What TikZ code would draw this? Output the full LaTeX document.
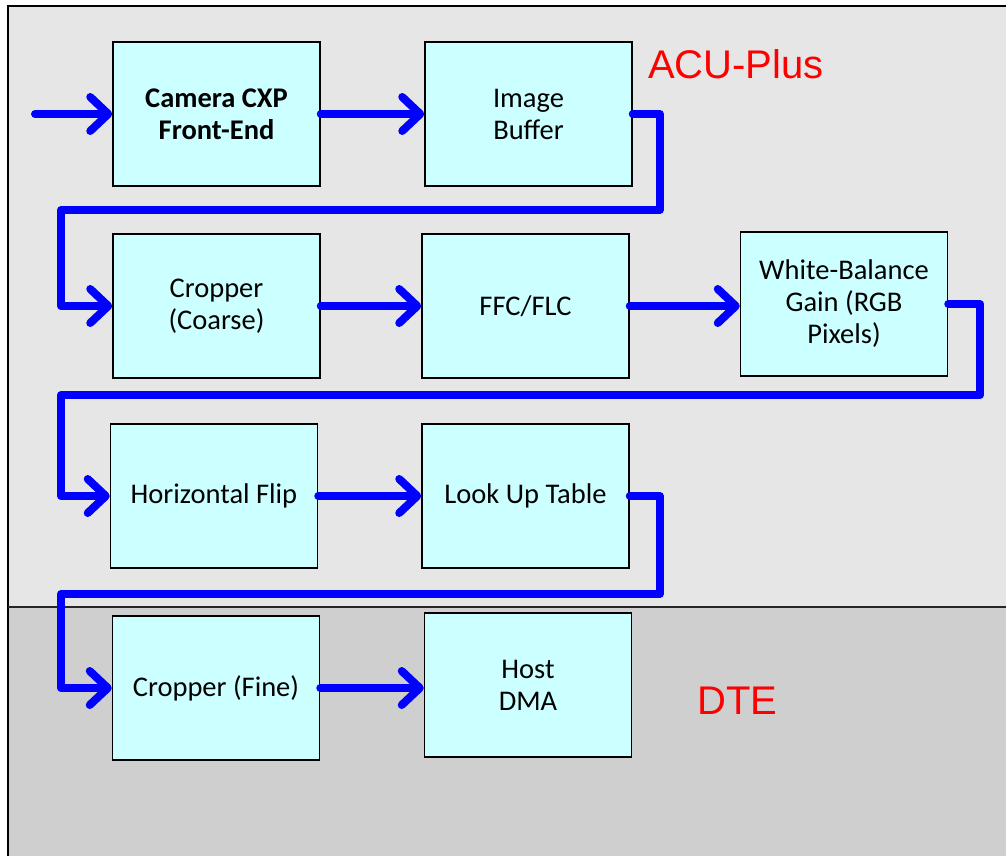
\documentclass[tikz,border=0pt]{standalone}
\usepackage{fontspec}
\setmainfont{Carlito}
\newfontfamily\regionfont{Liberation Sans}
\usetikzlibrary{arrows.meta}
\definecolor{acugray}{RGB}{230,230,230}
\definecolor{dtegray}{RGB}{207,207,207}
\definecolor{blockcyan}{RGB}{204,255,255}
\definecolor{flowblue}{RGB}{0,0,255}

\begin{document}
\begin{tikzpicture}[x=1pt,y=-1pt]
\tikzset{block/.style={draw=black, line width=1.5pt, fill=blockcyan, minimum width=207pt, minimum height=144pt, align=center, inner sep=0pt, font=\fontsize{28.5}{32}\selectfont}}
\tikzset{flow/.style={draw=flowblue, line width=8pt, line cap=round, line join=round, -{Straight Barb[length=18pt,width=34pt,round]}}}
\tikzset{region/.style={anchor=base west, inner sep=0pt, text=red, font=\regionfont\fontsize{40}{42}\selectfont}}
\useasboundingbox (0,0) rectangle (1006,855);
\clip (0,0) rectangle (1006,855);
% the two areas
\filldraw[fill=acugray, draw=black, line width=1.5pt] (8,6) rectangle (1020,607);
\filldraw[fill=dtegray, draw=black, line width=1.5pt] (8,607) rectangle (1020,870);
\draw[black!85, line width=2.5pt] (8,607) -- (1020,607);
\node[region] (acu) at (648,78) {ACU-Plus};
\node[region] (dte) at (697,714) {DTE};
% blocks
\node[block] (cam) at (216.5,114) {\bfseries Camera CXP\\\bfseries Front-End};
\node[block] (buf) at (528.5,114) {Image\\Buffer};
\node[block] (crc) at (216.5,306) {Cropper\\(Coarse)};
\node[block] (ffc) at (525.5,306) {FFC/FLC};
\node[block] (wb) at (844,304) {White-Balance\\Gain (RGB\\Pixels)};
\node[block] (hf) at (214,496) {Horizontal Flip};
\node[block] (lut) at (525.5,496) {Look Up Table};
\node[block] (crf) at (216,688) {Cropper (Fine)};
\node[block] (dma) at (528,685) {Host\\DMA};
% data path
\coordinate (in) at (35,114);
\draw[flow] (in) -- (cam.west);
\draw[flow] (cam.east) -- (buf.west);
\draw[flow] (buf.east) -- ++(27,0) |- (61,210) |- (crc.west);
\draw[flow] (crc.east) -- (ffc.west);
\draw[flow] (ffc.east) -- (ffc.east -| wb.west);
\draw[flow] (wb.east) -- ++(32,0) |- (61,395) |- (hf.west);
\draw[flow] (hf.east) -- (lut.west);
\draw[flow] (lut.east) -- ++(30,0) |- (61,594) |- (crf.west);
\draw[flow] (crf.east) -- (crf.east -| dma.west);
\end{tikzpicture}
\end{document}
